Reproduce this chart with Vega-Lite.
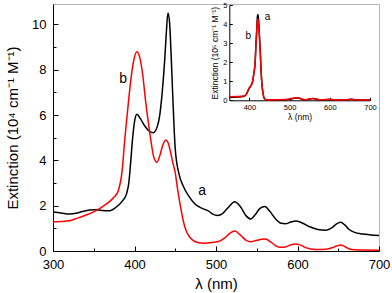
{
  "$schema": "https://vega.github.io/schema/vega-lite/v6.json",
  "width": 326,
  "height": 247,
  "autosize": {"type": "none"},
  "padding": {"left": 53, "top": 4, "right": 13, "bottom": 42},
  "background": "white",
  "config": {
    "font": "Liberation Sans",
    "view": {"stroke": "#b5b5b5", "strokeWidth": 1},
    "axis": {"grid": false, "labelFlush": false, "labelOverlap": false, "domainColor": "black", "tickColor": "black", "labelColor": "black", "titleColor": "black", "labelFont": "Liberation Sans", "titleFont": "Liberation Sans", "titleFontWeight": "normal", "domainWidth": 1, "tickWidth": 1}
  },
  "datasets": {
    "main": [
      {"lambda": 300, "ext": 1.72, "series": "a"}, {"lambda": 310, "ext": 1.68, "series": "a"}, {"lambda": 320, "ext": 1.63, "series": "a"}, {"lambda": 330, "ext": 1.68, "series": "a"}, {"lambda": 340, "ext": 1.78, "series": "a"}, {"lambda": 350, "ext": 1.82, "series": "a"}, {"lambda": 360, "ext": 1.79, "series": "a"}, {"lambda": 370, "ext": 1.78, "series": "a"}, {"lambda": 377, "ext": 1.92, "series": "a"}, {"lambda": 385, "ext": 2.2, "series": "a"}, {"lambda": 390, "ext": 2.5, "series": "a"}, {"lambda": 393, "ext": 3.0, "series": "a"}, {"lambda": 395.5, "ext": 4.0, "series": "a"}, {"lambda": 397.5, "ext": 4.9, "series": "a"}, {"lambda": 400, "ext": 5.7, "series": "a"}, {"lambda": 403, "ext": 6.03, "series": "a"}, {"lambda": 407, "ext": 5.85, "series": "a"}, {"lambda": 412, "ext": 5.55, "series": "a"}, {"lambda": 417, "ext": 5.32, "series": "a"}, {"lambda": 423, "ext": 5.22, "series": "a"}, {"lambda": 428, "ext": 5.5, "series": "a"}, {"lambda": 431, "ext": 6.0, "series": "a"}, {"lambda": 434, "ext": 7.0, "series": "a"}, {"lambda": 437, "ext": 8.4, "series": "a"}, {"lambda": 439, "ext": 9.6, "series": "a"}, {"lambda": 441, "ext": 10.5, "series": "a"}, {"lambda": 443, "ext": 10.1, "series": "a"}, {"lambda": 445, "ext": 8.6, "series": "a"}, {"lambda": 447, "ext": 6.8, "series": "a"}, {"lambda": 450, "ext": 4.5, "series": "a"}, {"lambda": 454.6, "ext": 3.4, "series": "a"}, {"lambda": 460, "ext": 2.85, "series": "a"}, {"lambda": 467, "ext": 2.4, "series": "a"}, {"lambda": 475, "ext": 2.05, "series": "a"}, {"lambda": 483, "ext": 1.88, "series": "a"}, {"lambda": 490, "ext": 1.78, "series": "a"}, {"lambda": 496, "ext": 1.63, "series": "a"}, {"lambda": 502, "ext": 1.57, "series": "a"}, {"lambda": 508, "ext": 1.65, "series": "a"}, {"lambda": 515, "ext": 1.92, "series": "a"}, {"lambda": 523, "ext": 2.17, "series": "a"}, {"lambda": 530, "ext": 1.95, "series": "a"}, {"lambda": 537, "ext": 1.55, "series": "a"}, {"lambda": 542.5, "ext": 1.41, "series": "a"}, {"lambda": 548, "ext": 1.6, "series": "a"}, {"lambda": 554, "ext": 1.88, "series": "a"}, {"lambda": 560, "ext": 1.96, "series": "a"}, {"lambda": 566, "ext": 1.75, "series": "a"}, {"lambda": 573, "ext": 1.42, "series": "a"}, {"lambda": 580, "ext": 1.22, "series": "a"}, {"lambda": 585, "ext": 1.2, "series": "a"}, {"lambda": 592, "ext": 1.28, "series": "a"}, {"lambda": 598, "ext": 1.32, "series": "a"}, {"lambda": 605, "ext": 1.25, "series": "a"}, {"lambda": 615, "ext": 1.07, "series": "a"}, {"lambda": 625, "ext": 0.95, "series": "a"}, {"lambda": 635, "ext": 0.92, "series": "a"}, {"lambda": 642, "ext": 1.02, "series": "a"}, {"lambda": 648, "ext": 1.2, "series": "a"}, {"lambda": 653, "ext": 1.27, "series": "a"}, {"lambda": 658, "ext": 1.15, "series": "a"}, {"lambda": 663, "ext": 0.96, "series": "a"}, {"lambda": 670, "ext": 0.82, "series": "a"}, {"lambda": 680, "ext": 0.75, "series": "a"}, {"lambda": 690, "ext": 0.71, "series": "a"}, {"lambda": 700, "ext": 0.68, "series": "a"},
      {"lambda": 300, "ext": 1.29, "series": "b"}, {"lambda": 310, "ext": 1.3, "series": "b"}, {"lambda": 320, "ext": 1.33, "series": "b"}, {"lambda": 330, "ext": 1.45, "series": "b"}, {"lambda": 340, "ext": 1.58, "series": "b"}, {"lambda": 350, "ext": 1.73, "series": "b"}, {"lambda": 360, "ext": 1.94, "series": "b"}, {"lambda": 370, "ext": 2.2, "series": "b"}, {"lambda": 375, "ext": 2.38, "series": "b"}, {"lambda": 380, "ext": 2.65, "series": "b"}, {"lambda": 385, "ext": 3.6, "series": "b"}, {"lambda": 388, "ext": 4.9, "series": "b"}, {"lambda": 391, "ext": 6.0, "series": "b"}, {"lambda": 395, "ext": 7.4, "series": "b"}, {"lambda": 399, "ext": 8.4, "series": "b"}, {"lambda": 403, "ext": 8.79, "series": "b"}, {"lambda": 406, "ext": 8.6, "series": "b"}, {"lambda": 410, "ext": 7.8, "series": "b"}, {"lambda": 414, "ext": 6.5, "series": "b"}, {"lambda": 418, "ext": 5.4, "series": "b"}, {"lambda": 420, "ext": 4.9, "series": "b"}, {"lambda": 424, "ext": 4.1, "series": "b"}, {"lambda": 427.5, "ext": 3.91, "series": "b"}, {"lambda": 431, "ext": 4.2, "series": "b"}, {"lambda": 435, "ext": 4.7, "series": "b"}, {"lambda": 438.5, "ext": 4.9, "series": "b"}, {"lambda": 441, "ext": 4.8, "series": "b"}, {"lambda": 444, "ext": 4.4, "series": "b"}, {"lambda": 447, "ext": 3.9, "series": "b"}, {"lambda": 450, "ext": 3.45, "series": "b"}, {"lambda": 453, "ext": 2.7, "series": "b"}, {"lambda": 456, "ext": 2.05, "series": "b"}, {"lambda": 460, "ext": 1.3, "series": "b"}, {"lambda": 463, "ext": 0.93, "series": "b"}, {"lambda": 467, "ext": 0.65, "series": "b"}, {"lambda": 471, "ext": 0.49, "series": "b"}, {"lambda": 479, "ext": 0.36, "series": "b"}, {"lambda": 485, "ext": 0.34, "series": "b"}, {"lambda": 491, "ext": 0.36, "series": "b"}, {"lambda": 497, "ext": 0.39, "series": "b"}, {"lambda": 503, "ext": 0.42, "series": "b"}, {"lambda": 510, "ext": 0.56, "series": "b"}, {"lambda": 517, "ext": 0.78, "series": "b"}, {"lambda": 523, "ext": 0.88, "series": "b"}, {"lambda": 530, "ext": 0.7, "series": "b"}, {"lambda": 537, "ext": 0.47, "series": "b"}, {"lambda": 542.5, "ext": 0.41, "series": "b"}, {"lambda": 550, "ext": 0.47, "series": "b"}, {"lambda": 556, "ext": 0.52, "series": "b"}, {"lambda": 561, "ext": 0.53, "series": "b"}, {"lambda": 567, "ext": 0.4, "series": "b"}, {"lambda": 573, "ext": 0.24, "series": "b"}, {"lambda": 579, "ext": 0.16, "series": "b"}, {"lambda": 585, "ext": 0.18, "series": "b"}, {"lambda": 591, "ext": 0.26, "series": "b"}, {"lambda": 597, "ext": 0.31, "series": "b"}, {"lambda": 603, "ext": 0.27, "series": "b"}, {"lambda": 610, "ext": 0.15, "series": "b"}, {"lambda": 622, "ext": 0.07, "series": "b"}, {"lambda": 635, "ext": 0.08, "series": "b"}, {"lambda": 643, "ext": 0.15, "series": "b"}, {"lambda": 648, "ext": 0.22, "series": "b"}, {"lambda": 653, "ext": 0.26, "series": "b"}, {"lambda": 658, "ext": 0.2, "series": "b"}, {"lambda": 663, "ext": 0.1, "series": "b"}, {"lambda": 670, "ext": 0.05, "series": "b"}, {"lambda": 680, "ext": 0.04, "series": "b"}, {"lambda": 700, "ext": 0.03, "series": "b"}
    ],
    "inset": [
      {"lambda": 350, "ext": 0.14, "series": "a"}, {"lambda": 370, "ext": 0.17, "series": "a"}, {"lambda": 385, "ext": 0.2, "series": "a"}, {"lambda": 392, "ext": 0.3, "series": "a"}, {"lambda": 397, "ext": 0.52, "series": "a"}, {"lambda": 401, "ext": 0.68, "series": "a"}, {"lambda": 405, "ext": 0.8, "series": "a"}, {"lambda": 408, "ext": 0.98, "series": "a"}, {"lambda": 411, "ext": 1.4, "series": "a"}, {"lambda": 414, "ext": 1.9, "series": "a"}, {"lambda": 416, "ext": 2.8, "series": "a"}, {"lambda": 418, "ext": 3.6, "series": "a"}, {"lambda": 420, "ext": 4.4, "series": "a"}, {"lambda": 421, "ext": 4.5, "series": "a"}, {"lambda": 422.5, "ext": 4.3, "series": "a"}, {"lambda": 424.5, "ext": 3.6, "series": "a"}, {"lambda": 427, "ext": 2.6, "series": "a"}, {"lambda": 429, "ext": 1.6, "series": "a"}, {"lambda": 431, "ext": 0.9, "series": "a"}, {"lambda": 434, "ext": 0.35, "series": "a"}, {"lambda": 437, "ext": 0.1, "series": "a"}, {"lambda": 442, "ext": 0.03, "series": "a"}, {"lambda": 450, "ext": 0.02, "series": "a"}, {"lambda": 490, "ext": 0.03, "series": "a"}, {"lambda": 505, "ext": 0.07, "series": "a"}, {"lambda": 515, "ext": 0.12, "series": "a"}, {"lambda": 522, "ext": 0.12, "series": "a"}, {"lambda": 530, "ext": 0.06, "series": "a"}, {"lambda": 540, "ext": 0.02, "series": "a"}, {"lambda": 550, "ext": 0.07, "series": "a"}, {"lambda": 558, "ext": 0.09, "series": "a"}, {"lambda": 566, "ext": 0.06, "series": "a"}, {"lambda": 580, "ext": 0.02, "series": "a"}, {"lambda": 600, "ext": 0.04, "series": "a"}, {"lambda": 620, "ext": 0.01, "series": "a"}, {"lambda": 640, "ext": 0.02, "series": "a"}, {"lambda": 653, "ext": 0.05, "series": "a"}, {"lambda": 665, "ext": 0.02, "series": "a"}, {"lambda": 700, "ext": 0.01, "series": "a"},
      {"lambda": 350, "ext": 0.18, "series": "b"}, {"lambda": 370, "ext": 0.2, "series": "b"}, {"lambda": 385, "ext": 0.22, "series": "b"}, {"lambda": 392, "ext": 0.32, "series": "b"}, {"lambda": 397, "ext": 0.55, "series": "b"}, {"lambda": 401, "ext": 0.7, "series": "b"}, {"lambda": 405, "ext": 0.82, "series": "b"}, {"lambda": 408, "ext": 1.0, "series": "b"}, {"lambda": 411, "ext": 1.4, "series": "b"}, {"lambda": 414, "ext": 1.9, "series": "b"}, {"lambda": 416, "ext": 2.7, "series": "b"}, {"lambda": 418, "ext": 3.5, "series": "b"}, {"lambda": 420, "ext": 4.2, "series": "b"}, {"lambda": 421, "ext": 4.26, "series": "b"}, {"lambda": 422.5, "ext": 4.1, "series": "b"}, {"lambda": 424.5, "ext": 3.5, "series": "b"}, {"lambda": 427, "ext": 2.5, "series": "b"}, {"lambda": 429, "ext": 1.55, "series": "b"}, {"lambda": 431, "ext": 0.88, "series": "b"}, {"lambda": 434, "ext": 0.35, "series": "b"}, {"lambda": 437, "ext": 0.1, "series": "b"}, {"lambda": 442, "ext": 0.03, "series": "b"}, {"lambda": 450, "ext": 0.02, "series": "b"}, {"lambda": 490, "ext": 0.04, "series": "b"}, {"lambda": 505, "ext": 0.09, "series": "b"}, {"lambda": 515, "ext": 0.14, "series": "b"}, {"lambda": 522, "ext": 0.14, "series": "b"}, {"lambda": 530, "ext": 0.07, "series": "b"}, {"lambda": 540, "ext": 0.03, "series": "b"}, {"lambda": 550, "ext": 0.08, "series": "b"}, {"lambda": 558, "ext": 0.1, "series": "b"}, {"lambda": 566, "ext": 0.07, "series": "b"}, {"lambda": 580, "ext": 0.03, "series": "b"}, {"lambda": 600, "ext": 0.05, "series": "b"}, {"lambda": 620, "ext": 0.02, "series": "b"}, {"lambda": 640, "ext": 0.03, "series": "b"}, {"lambda": 653, "ext": 0.06, "series": "b"}, {"lambda": 665, "ext": 0.02, "series": "b"}, {"lambda": 700, "ext": 0.01, "series": "b"}
    ],
    "mainLabels": [
      {"lambda": 483, "ext": 2.66, "label": "a"},
      {"lambda": 386, "ext": 7.57, "label": "b"}
    ],
    "insetLabels": [
      {"lambda": 445, "ext": 4.38, "label": "a"},
      {"lambda": 397.5, "ext": 3.35, "label": "b"}
    ]
  },
  "layer": [
    {
      "data": {"name": "main"},
      "mark": {"type": "line", "strokeWidth": 1.5, "interpolate": "monotone"},
      "encoding": {
        "x": {"field": "lambda", "type": "quantitative",
          "scale": {"domain": [300, 700], "nice": false, "zero": false},
          "axis": {"orient": "bottom", "values": [300, 400, 500, 600, 700], "tickSize": -5, "labelFontSize": 13, "labelPadding": 12, "title": "λ (nm)", "titleFontSize": 15, "titlePadding": 5}},
        "y": {"field": "ext", "type": "quantitative",
          "scale": {"domain": [0, 10.9], "nice": false},
          "axis": {"orient": "left", "values": [0, 2, 4, 6, 8, 10], "tickSize": -5, "labelFontSize": 13, "labelPadding": 12, "title": "Extinction  (10⁴ cm⁻¹ M⁻¹)", "titleFontSize": 15, "titlePadding": 11}},
        "color": {"field": "series", "type": "nominal", "scale": {"domain": ["a", "b"], "range": ["#000000", "#ff0000"]}, "legend": null}
      }
    },
    {
      "data": {"name": "mainLabels"},
      "mark": {"type": "text", "fontSize": 14, "align": "center", "baseline": "middle", "color": "black"},
      "encoding": {
        "x": {"field": "lambda", "type": "quantitative",
          "scale": {"domain": [300, 700], "nice": false, "zero": false},
          "axis": {"orient": "bottom", "values": [350, 450, 550, 650], "tickSize": -3, "labels": false, "domain": false, "title": null}},
        "y": {"field": "ext", "type": "quantitative",
          "scale": {"domain": [0, 10.9], "nice": false},
          "axis": {"orient": "left", "values": [1, 3, 5, 7, 9], "tickSize": -3, "labels": false, "domain": false, "title": null}},
        "text": {"field": "label"}
      }
    },
    {
      "data": {"name": "inset"},
      "mark": {"type": "line", "strokeWidth": 1.5, "interpolate": "monotone"},
      "encoding": {
        "x": {"field": "lambda", "type": "quantitative",
          "scale": {"domain": [350, 700], "range": [176.3, 317], "nice": false, "zero": false},
          "axis": {"orient": "bottom", "offset": -150.7, "values": [400, 500, 600, 700], "tickSize": -3, "labelFontSize": 7.5, "labelPadding": 6, "title": "λ  (nm)", "titleFontSize": 8.5, "titlePadding": 2}},
        "y": {"field": "ext", "type": "quantitative",
          "scale": {"domain": [0, 5], "range": [96.3, 1], "nice": false},
          "axis": {"orient": "left", "offset": -176.3, "values": [0, 1, 2, 3, 4, 5], "tickSize": -3, "labelFontSize": 7.5, "labelPadding": 5.5, "title": "Extinction  (10⁵ cm⁻¹ M⁻¹)", "titleFontSize": 8.5, "titlePadding": 3}},
        "color": {"field": "series", "type": "nominal", "scale": {"domain": ["a", "b"], "range": ["#000000", "#ff0000"]}, "legend": null}
      }
    },
    {
      "data": {"name": "insetLabels"},
      "mark": {"type": "text", "fontSize": 10, "align": "center", "baseline": "middle", "color": "black"},
      "encoding": {
        "x": {"field": "lambda", "type": "quantitative",
          "scale": {"domain": [350, 700], "range": [176.3, 317], "nice": false, "zero": false}, "axis": null},
        "y": {"field": "ext", "type": "quantitative",
          "scale": {"domain": [0, 5], "range": [96.3, 1], "nice": false}, "axis": null},
        "text": {"field": "label"}
      }
    }
  ],
  "resolve": {"scale": {"x": "independent", "y": "independent"}, "axis": {"x": "independent", "y": "independent"}}
}
